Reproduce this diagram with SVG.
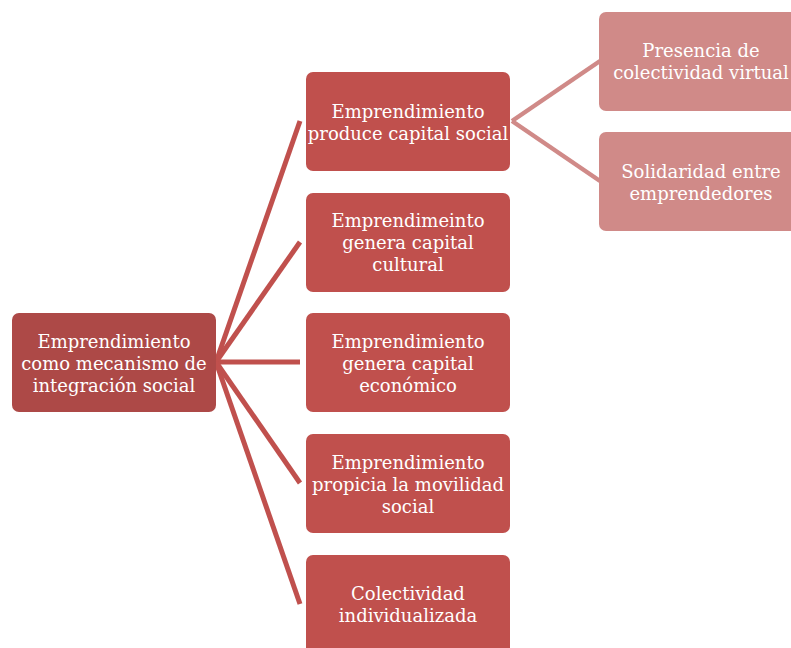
<svg xmlns="http://www.w3.org/2000/svg" width="791" height="648" viewBox="0 0 791 648">
<style>
.root{fill:#AD4947}
.mid{fill:#C0504D}
.leaf{fill:#D08A88}
text{font-family:"DejaVu Serif","Liberation Serif",serif;font-size:18px;fill:#FFFFFF;text-anchor:middle}
.c1{stroke:#C0504D;stroke-width:5;fill:none}
.c2{stroke:#D08A88;stroke-width:4.5;fill:none}
</style>
<rect width="791" height="648" fill="#FFFFFF"/>
<g id="connectors">
<line class="c1" x1="216" y1="362" x2="300" y2="121"/>
<line class="c1" x1="216" y1="362" x2="300" y2="242"/>
<line class="c1" x1="216" y1="362" x2="300" y2="362"/>
<line class="c1" x1="216" y1="362" x2="300" y2="483"/>
<line class="c1" x1="216" y1="362" x2="300" y2="604"/>
<line class="c2" x1="512" y1="121" x2="600" y2="61"/>
<line class="c2" x1="512" y1="121" x2="600" y2="181"/>
</g>
<g id="root">
<rect class="root" x="12" y="313" width="204" height="99" rx="7"/>
<text x="114" y="348">Emprendimiento</text>
<text x="114" y="370">como mecanismo de</text>
<text x="114" y="392">integración social</text>
</g>
<g id="n1">
<rect class="mid" x="306" y="72" width="204" height="99" rx="7"/>
<text x="408" y="118">Emprendimiento</text>
<text x="408" y="140">produce capital social</text>
</g>
<g id="n2">
<rect class="mid" x="306" y="193" width="204" height="99" rx="7"/>
<text x="408" y="227">Emprendimeinto</text>
<text x="408" y="249">genera capital</text>
<text x="408" y="271">cultural</text>
</g>
<g id="n3">
<rect class="mid" x="306" y="313" width="204" height="99" rx="7"/>
<text x="408" y="348">Emprendimiento</text>
<text x="408" y="370">genera capital</text>
<text x="408" y="392">económico</text>
</g>
<g id="n4">
<rect class="mid" x="306" y="434" width="204" height="99" rx="7"/>
<text x="408" y="469">Emprendimiento</text>
<text x="408" y="491">propicia la movilidad</text>
<text x="408" y="513">social</text>
</g>
<g id="n5">
<rect class="mid" x="306" y="555" width="204" height="99" rx="7"/>
<text x="408" y="600">Colectividad</text>
<text x="408" y="622">individualizada</text>
</g>
<g id="l1">
<rect class="leaf" x="599" y="12" width="204" height="99" rx="7"/>
<text x="701" y="57">Presencia de</text>
<text x="701" y="79">colectividad virtual</text>
</g>
<g id="l2">
<rect class="leaf" x="599" y="132" width="204" height="99" rx="7"/>
<text x="701" y="178">Solidaridad entre</text>
<text x="701" y="200">emprendedores</text>
</g>
</svg>
